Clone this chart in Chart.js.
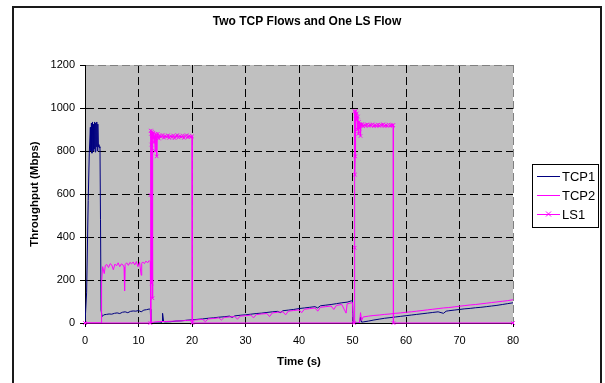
<!DOCTYPE html>
<html>
<head>
<meta charset="utf-8">
<title>Two TCP Flows and One LS Flow</title>
<script src="https://cdn.jsdelivr.net/npm/chart.js@4.4.0/dist/chart.umd.min.js"></script>
<style>
    html, body { margin: 0; padding: 0; background: #fff; }
    #wrap { width: 605px; height: 383px; }
</style>
</head>
<body>
<div id="wrap"><canvas id="flow_chart" width="605" height="383"></canvas></div>
<script>
// time (s) and throughput (Mbps) for each flow
const tcp1Time = [0, 0.3, 0.6, 0.8, 1.0, 1.1, 1.2, 1.3, 1.4, 1.5, 1.6, 1.7, 1.8, 1.9, 2.0, 2.1, 2.2, 2.3, 2.4, 2.5,
    2.6, 2.7, 2.8, 2.9, 3.0, 3.2, 3.5, 4, 4.5, 5, 5.5, 6, 6.5, 7, 7.5, 8, 8.5, 9, 9.5, 10, 10.5, 11, 11.5, 12, 12.2,
    12.3, 14.2, 14.4, 14.5, 14.7, 15, 16, 17, 18, 19, 20, 21, 22, 23, 24, 25, 26, 27, 27.5, 28, 29, 30, 31, 32, 33,
    34, 35, 36, 36.5, 37, 38, 39, 40, 41, 42, 43, 43.5, 44, 45, 46, 47, 48, 49, 49.8, 50, 50.1, 51.3, 51.5, 51.7,
    52, 53, 54, 55, 56, 57, 58, 59, 60, 61, 62, 63, 64, 65, 66, 67, 67.5, 68, 69, 70, 71, 72, 73, 74, 75, 76, 77,
    78, 79, 80];
const tcp1Rate = [0, 140, 570, 790, 910, 800, 930, 790, 935, 800, 925, 810, 935, 795, 930, 820, 935, 800, 925, 820,
    830, 815, 820, 480, 60, 30, 38, 40, 42, 41, 45, 47, 44, 50, 52, 48, 54, 56, 55, 58, 52, 60, 62, 65, 64,
    0, 0, 8, 45, 6, 5, 6, 9, 10, 13, 15, 17, 19, 22, 24, 27, 29, 32, 26, 33, 36, 38, 41, 44, 46,
    49, 52, 54, 48, 57, 60, 63, 67, 70, 73, 76, 70, 80, 83, 86, 90, 94, 97, 103, 104, 0, 0, 28, 4,
    5, 9, 14, 18, 22, 25, 28, 31, 34, 37, 40, 43, 46, 49, 52, 45, 55, 57, 60, 63, 66, 68, 71, 73, 76, 79, 82,
    86, 90, 94];

const tcp2Time = [0, 3.0, 3.1, 3.3, 3.6, 3.8, 4.1, 4.4, 4.7, 5.0, 5.3, 5.6, 5.9, 6.2, 6.5, 6.8, 7.1, 7.3, 7.4, 7.5,
    7.8, 8.1, 8.4, 8.7, 9.0, 9.3, 9.6, 9.9, 10.2, 10.5, 10.6, 10.8, 11.1, 11.4, 11.7, 12.0, 12.2, 12.3, 13, 14, 15,
    16, 17, 18, 19, 20, 21, 22, 22.5, 23, 24, 25, 25.5, 26, 27, 28, 28.5, 29, 30, 31, 31.5, 32, 33, 34, 34.5, 35,
    36, 37, 37.5, 38, 39, 40, 40.5, 41, 42, 43, 43.5, 44, 45, 46, 46.5, 47, 48, 48.8, 49, 49.5, 50, 50.1, 51.3,
    51.5, 51.7, 52, 53, 54, 55, 56, 57, 58, 59, 60, 61, 62, 63, 64, 65, 66, 67, 68, 69, 70, 71, 72, 73, 74, 75,
    76, 77, 78, 79, 80];
const tcp2Rate = [0, 0, 190, 262, 230, 268, 272, 258, 276, 270, 248, 274, 266, 280, 262, 275, 270, 260, 150, 272,
    280, 268, 282, 275, 284, 270, 286, 262, 282, 222, 278, 284, 276, 288, 280, 290, 285, 0, 5, 7, 7,
    8, 9, 10, 12, 13, 15, 17, 6, 19, 21, 24, 14, 26, 28, 30, 18, 32, 34, 37, 24, 39, 42, 44, 30, 47,
    50, 52, 38, 55, 58, 61, 48, 64, 67, 70, 55, 73, 76, 79, 63, 82, 86, 46, 89, 92, 95, 0, 0,
    48, 12, 28, 32, 35, 37, 40, 42, 45, 47, 50, 52, 55, 58, 61, 64, 67, 70, 72, 75, 78, 81, 84, 86, 89, 92,
    95, 98, 101, 104, 108];

const ls1Time = [0, 12.2, 12.25, 12.3, 12.35, 12.4, 12.45, 12.5, 12.55, 12.6, 12.7, 12.8, 12.9, 13.0, 13.1, 13.2,
    13.3, 13.4, 13.5, 13.6, 13.8, 14.0, 14.25, 14.5, 14.75, 15.0, 15.25, 15.5, 15.75, 16.0, 16.25, 16.5, 16.75,
    17.0, 17.25, 17.5, 17.75, 18.0, 18.25, 18.5, 18.75, 19.0, 19.25, 19.5, 19.75, 20.0, 20.05,
    50.3, 50.35, 50.4, 50.45, 50.5, 50.55, 50.6, 50.7, 50.8, 50.9, 51.0, 51.1, 51.2, 51.3, 51.4, 51.5, 51.6,
    51.8, 52.0, 52.25, 52.5, 52.75, 53.0, 53.25, 53.5, 53.75, 54.0, 54.25, 54.5, 54.75, 55.0, 55.25, 55.5, 55.75,
    56.0, 56.25, 56.5, 56.75, 57.0, 57.25, 57.5, 57.6, 57.65, 80];
const ls1Rate = [0, 0, 595, 895, 880, 830, 185, 870, 890, 115, 860, 885, 840, 870, 800, 880,
    860, 775, 870, 880, 858, 872, 866, 874, 862, 870, 866, 873, 861, 869, 864, 872, 860,
    868, 874, 863, 869, 866, 872, 861, 868, 873, 864, 870, 866, 868, 0,
    0, 985, 350, 690, 775, 965, 985, 945, 975, 900, 960, 880, 935, 905, 925, 870, 918,
    925, 915, 921, 918, 924, 917, 922, 919, 924, 916, 921, 918, 923, 917, 922, 919, 924,
    916, 921, 918, 923, 917, 921, 919, 920, 0, 0];

const xTicks = [0, 10, 20, 30, 40, 50, 60, 70, 80];
const yTicks = [0, 200, 400, 600, 800, 1000, 1200];

const chartTitle = 'Two TCP Flows and One LS Flow';
const fontFamily = "'Liberation Sans', Arial, sans-serif";

Chart.defaults.font.family = fontFamily;
Chart.defaults.font.size = 11;
Chart.defaults.color = '#000';

function toPoints(times, rates) {
    return times.map(function (t, i) {
        return {x: t, y: rates[i]};
    });
}

// white page, outer frame and grey plot area
const plotBackground = {
    id: 'plotBackground',
    beforeDraw(chart) {
        const ctx = chart.ctx;
        const area = chart.chartArea;
        ctx.save();
        ctx.fillStyle = '#fff';
        ctx.fillRect(0, 0, chart.width, chart.height);
        ctx.strokeStyle = '#1a1a1a';
        ctx.lineWidth = 2;
        ctx.strokeRect(13, 7, 588, 400);
        ctx.fillStyle = '#c0c0c0';
        ctx.fillRect(area.left, area.top, area.right - area.left, area.bottom - area.top);
        ctx.restore();
    }
};

// title centred on the frame, not on the plot
const frameTitle = {
    id: 'frameTitle',
    afterDraw(chart) {
        const ctx = chart.ctx;
        ctx.save();
        ctx.font = 'bold 12px ' + fontFamily;
        ctx.fillStyle = '#000';
        ctx.textAlign = 'center';
        ctx.textBaseline = 'middle';
        ctx.fillText(chartTitle, 307, 22);
        ctx.restore();
    }
};

// boxed legend on the right, with line samples
const boxLegend = {
    id: 'boxLegend',
    afterDraw(chart) {
        const ctx = chart.ctx;
        const left = 532, top = 164, rowGap = 19;
        ctx.save();
        ctx.fillStyle = '#fff';
        ctx.fillRect(left, top, 66, 63);
        ctx.strokeStyle = '#000';
        ctx.lineWidth = 1;
        ctx.strokeRect(left + 0.5, top + 0.5, 66, 63);
        ctx.font = '13px ' + fontFamily;
        ctx.textBaseline = 'middle';
        ctx.textAlign = 'left';
        chart.data.datasets.forEach(function (ds, i) {
            const y = top + 12 + i * rowGap;
            ctx.strokeStyle = ds.borderColor;
            ctx.lineWidth = 1;
            ctx.beginPath();
            ctx.moveTo(left + 5, y + 0.5);
            ctx.lineTo(left + 28, y + 0.5);
            ctx.stroke();
            if (ds.pointRadius > 0) {
                const cx = left + 16.5, r = 2.5;
                ctx.beginPath();
                ctx.moveTo(cx - r, y - r);
                ctx.lineTo(cx + r, y + r);
                ctx.moveTo(cx - r, y + r);
                ctx.lineTo(cx + r, y - r);
                ctx.stroke();
            }
            ctx.fillStyle = '#000';
            ctx.fillText(ds.label, left + 30, y + 1);
        });
        ctx.restore();
    }
};

function gridColour(edgeValue) {
    return function (ctx) {
        return ctx.tick && ctx.tick.value === edgeValue ? '#808080' : '#000';
    };
}

function plainNumber(value) {
    return String(value);
}

new Chart(document.getElementById('flow_chart'), {
    type: 'line',
    data: {
        datasets: [
            {
                label: 'TCP1',
                data: toPoints(tcp1Time, tcp1Rate),
                borderColor: '#000080',
                borderWidth: 1,
                pointRadius: 0,
                tension: 0,
                order: 3
            },
            {
                label: 'TCP2',
                data: toPoints(tcp2Time, tcp2Rate),
                borderColor: '#ff00ff',
                borderWidth: 1,
                pointRadius: 0,
                tension: 0,
                order: 2
            },
            {
                label: 'LS1',
                data: toPoints(ls1Time, ls1Rate),
                borderColor: '#ff00ff',
                borderWidth: 1,
                pointStyle: 'crossRot',
                pointRadius: 2.5,
                pointBorderColor: '#ff00ff',
                pointBorderWidth: 1,
                tension: 0,
                clip: 5,
                order: 1
            }
        ]
    },
    options: {
        responsive: false,
        animation: false,
        events: [],
        layout: {padding: {left: 14, right: 92, top: 65, bottom: 0}},
        plugins: {
            legend: {display: false},
            tooltip: {enabled: false},
            title: {display: false}
        },
        scales: {
            x: {
                type: 'linear',
                min: 0,
                max: 80,
                afterBuildTicks(scale) {
                    scale.ticks = xTicks.map(function (v) { return {value: v}; });
                },
                afterFit(scale) { scale.height = 60; },
                ticks: {color: '#000', padding: 7, maxRotation: 0, font: {size: 11}, callback: plainNumber},
                grid: {color: gridColour(80), tickColor: '#000', tickLength: 4, tickBorderDash: []},
                border: {display: true, color: '#000', width: 1, dash: [8, 4]},
                title: {
                    display: true,
                    text: 'Time (s)',
                    color: '#000',
                    font: {size: 11.5, weight: 'bold'},
                    padding: {top: 0, bottom: 14}
                }
            },
            y: {
                type: 'linear',
                min: 0,
                max: 1200,
                afterBuildTicks(scale) {
                    scale.ticks = yTicks.map(function (v) { return {value: v}; });
                },
                afterFit(scale) { scale.width = 71; },
                ticks: {color: '#000', padding: 5, font: {size: 11}, callback: plainNumber},
                grid: {color: gridColour(1200), tickColor: '#000', tickLength: 5, tickBorderDash: []},
                border: {display: true, color: '#000', width: 1, dash: [8, 4]},
                title: {
                    display: true,
                    text: 'Throughput (Mbps)',
                    color: '#000',
                    font: {size: 11.5, weight: 'bold'},
                    padding: {top: 14, bottom: 0}
                }
            }
        }
    },
    plugins: [plotBackground, frameTitle, boxLegend]
});
</script>
</body>
</html>
